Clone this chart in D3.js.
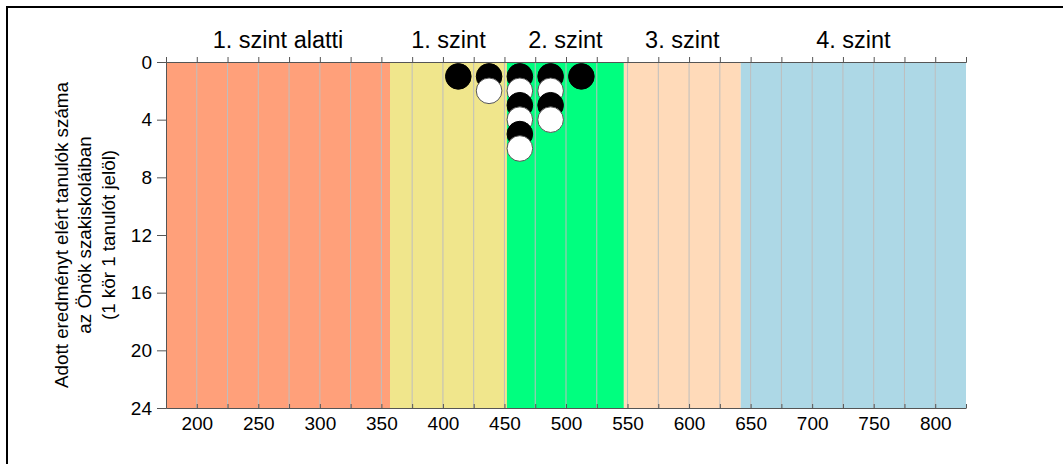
<!DOCTYPE html>
<meta charset="utf-8">
<head>
  <title>Szintek szerinti eloszlás</title>
  <style>
    body { margin: 0; background: #fff; }
    svg { display: block; font-family: "Liberation Sans", Arial, sans-serif; }
  </style>
</head>
<body>
<script src="https://d3js.org/d3.v7.min.js"></script>
<div id="chart"></div>
<script>

// level bands (score ranges)
var bandNames = ["1. szint alatti", "1. szint", "2. szint", "3. szint", "4. szint"];
var bandStarts = [175, 357, 452, 547, 642];
var bandEnds = [357, 452, 547, 642, 825];
var bandColors = ["#ffa07a", "#f0e68c", "#00ff7f", "#ffdab9", "#add8e6"];

// students: score column (bin centre) and number of students in that column
var dotScores = [412.5, 437.5, 462.5, 487.5, 512.5];
var dotCounts = [1, 2, 6, 4, 1];

var yTicks = [0, 4, 8, 12, 16, 20, 24];
var yTitle = ["Adott eredményt elért tanulók száma", "az Önök szakiskoláiban", "(1 kör 1 tanulót jelöl)"];

var width = 1063, height = 464;
// note: "top" is reserved on window, so plot edges get their own names
var plotLeft = 166, plotRight = 966, plotTop = 62, plotBottom = 408;

var x = d3.scaleLinear().domain([175, 825]).range([plotLeft, plotRight]);
var y = d3.scaleLinear().domain([0, 24]).range([plotTop, plotBottom]);

var svg = d3.select("#chart").append("svg")
    .attr("width", width)
    .attr("height", height);

// outer frame (runs off the right and bottom edge)
svg.append("path")
    .attr("d", "M7," + height + "V7H" + width)
    .attr("fill", "none")
    .attr("stroke", "#000")
    .attr("stroke-width", 2);

// coloured bands
svg.append("g").selectAll("rect")
  .data(bandNames)
  .enter().append("rect")
    .attr("x", function(d, i) { return x(bandStarts[i]); })
    .attr("y", plotTop)
    .attr("width", function(d, i) { return x(bandEnds[i]) - x(bandStarts[i]); })
    .attr("height", plotBottom - plotTop)
    .attr("fill", function(d, i) { return bandColors[i]; });

// band labels
svg.append("g").selectAll("text")
  .data(bandNames)
  .enter().append("text")
    .attr("x", function(d, i) { return x((bandStarts[i] + bandEnds[i]) / 2); })
    .attr("y", 48)
    .attr("text-anchor", "middle")
    .style("font-size", "23.5px")
    .text(function(d) { return d; });

// vertical gridlines every 25
var gridVals = d3.range(200, 825, 25);
svg.append("g").selectAll("line")
  .data(gridVals)
  .enter().append("line")
    .attr("x1", function(d) { return x(d); })
    .attr("x2", function(d) { return x(d); })
    .attr("y1", plotTop)
    .attr("y2", plotBottom)
    .attr("stroke", "#bebebe")
    .attr("stroke-width", 1);

// dots, stacked upward from 1, black / white alternating
var dots = [];
dotScores.forEach(function(s, i) {
  for (var k = 1; k <= dotCounts[i]; k++) {
    dots.push({score: s, level: k, fill: k % 2 ? "#000" : "#fff"});
  }
});

svg.append("g").selectAll("circle")
  .data(dots)
  .enter().append("circle")
    .attr("cx", function(d) { return x(d.score); })
    .attr("cy", function(d) { return y(d.level); })
    .attr("r", 12.8)
    .attr("fill", function(d) { return d.fill; })
    .attr("stroke", function(d) { return d.fill == "#fff" ? "#555" : "#000"; })
    .attr("stroke-width", 1);

// axes
var tickVals = d3.range(175, 826, 25);

var topAxis = svg.append("g")
    .attr("transform", "translate(0," + plotTop + ")")
    .call(d3.axisTop(x).tickValues(tickVals).tickSize(5).tickFormat(""));

var bottomAxis = svg.append("g")
    .attr("transform", "translate(0," + plotBottom + ")")
    .call(d3.axisBottom(x).tickValues(tickVals).tickSizeInner(-4).tickSizeOuter(0).tickPadding(9)
      .tickFormat(function(d) { return (d % 50 == 0) ? d : ""; }));

var leftAxis = svg.append("g")
    .attr("transform", "translate(" + plotLeft + ",0)")
    .call(d3.axisLeft(y).tickValues(yTicks).tickSize(9).tickPadding(5));

[topAxis, bottomAxis, leftAxis].forEach(function(a) {
  a.selectAll("path, line").attr("stroke", "#555");
  a.selectAll("text")
    .attr("fill", "#000")
    .style("font-family", "Liberation Sans, Arial, sans-serif")
    .style("font-size", "19px");
});

// y title, three centred lines rotated
var yTitleG = svg.append("g")
    .attr("transform", "translate(61," + ((plotTop + plotBottom) / 2) + ") rotate(-90)");

yTitleG.selectAll("text")
  .data(yTitle)
  .enter().append("text")
    .attr("x", 0)
    .attr("y", function(d, i) { return i * 23.5; })
    .attr("dy", "0.35em")
    .attr("text-anchor", "middle")
    .style("font-size", "18.8px")
    .text(function(d) { return d; });

</script>
</body>
